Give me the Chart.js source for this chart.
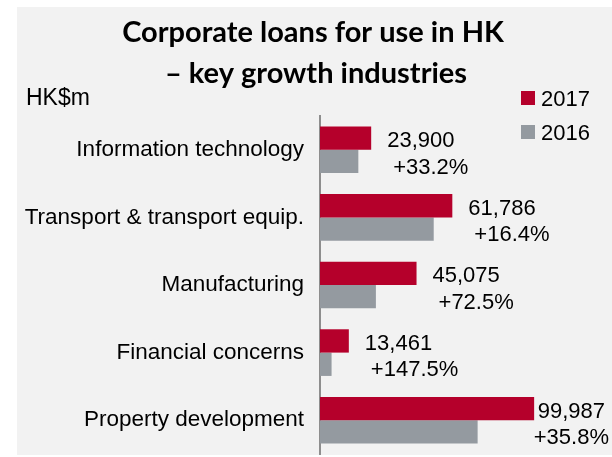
<!DOCTYPE html>
<html>
<head>
<meta charset="utf-8">
<script src="https://cdn.jsdelivr.net/npm/chart.js@4"></script>
<style>
  html, body { margin: 0; padding: 0; background: #fff; }
  canvas { display: block; }
</style>
</head>
<body>
<canvas id="loansChart" width="612" height="457"></canvas>
<script>
const chartTitle = ['Corporate loans for use in HK', '\u2013 key growth industries'];
const industries = ['Information technology', 'Transport & transport equip.', 'Manufacturing', 'Financial concerns', 'Property development'];
const loans2017 = [23900, 61786, 45075, 13461, 99987];
const loans2016 = [17900, 53100, 26100, 5400, 73600];
const growthPct = [33.2, 16.4, 72.5, 147.5, 35.8];
const seriesNames = ['2017', '2016'];
const unitLabel = 'HK$m';

const RED = '#b5002b';
const GREY = '#949aa0';
const FONT = "'Liberation Sans', Arial, sans-serif";

// panel background, title, unit label, legend and value/growth labels
const decorations = {
    id: 'decorations',
    beforeDraw(chart) {
        const ctx = chart.ctx;
        ctx.save();
        ctx.fillStyle = '#f2f2f2';
        ctx.fillRect(17, 7, chart.width - 17, 448);
        ctx.restore();
    },
    afterDatasetsDraw(chart) {
        const ctx = chart.ctx;
        ctx.save();
        ctx.fillStyle = '#000';
        ctx.textBaseline = 'alphabetic';

        ctx.textAlign = 'center';
        ctx.font = "bold 29px Lato, sans-serif";
        ctx.fillText(chartTitle[0], 313, 42);
        ctx.fillText(chartTitle[1], 316, 83);

        ctx.textAlign = 'left';
        ctx.font = '23px ' + FONT;
        ctx.fillText(unitLabel, 26, 105);

        // legend, stacked at top right
        ctx.font = '22px ' + FONT;
        chart.data.datasets.forEach((ds, k) => {
            const y = 91 + k * 34;
            ctx.fillStyle = ds.backgroundColor;
            ctx.fillRect(521, y, 14, 14);
            ctx.fillStyle = '#000';
            ctx.fillText(ds.label, 541, y + 15);
        });

        const bars17 = chart.getDatasetMeta(0).data;
        const bars16 = chart.getDatasetMeta(1).data;
        ctx.textBaseline = 'middle';
        industries.forEach((_, i) => {
            const valText = loans2017[i].toLocaleString('en-US');
            const pctText = '+' + growthPct[i].toFixed(1) + '%';
            const vw = ctx.measureText(valText).width;
            const pw = ctx.measureText(pctText).width;
            const vx = Math.min(bars17[i].x + 16, chart.width - 7 - vw);
            const px = Math.min(vx + 6, chart.width - 3 - pw);
            ctx.fillText(valText, vx, bars17[i].y + 3);
            ctx.fillText(pctText, px, bars16[i].y + 6);
        });
        ctx.restore();
    }
};

new Chart(document.getElementById('loansChart'), {
    type: 'bar',
    data: {
        labels: industries,
        datasets: [
            { label: seriesNames[0], data: loans2017, backgroundColor: RED },
            { label: seriesNames[1], data: loans2016, backgroundColor: GREY }
        ]
    },
    options: {
        indexAxis: 'y',
        responsive: false,
        animation: false,
        categoryPercentage: 0.69,
        barPercentage: 1.0,
        layout: { padding: { top: 116, right: 35, bottom: 3, left: 0 } },
        plugins: {
            legend: { display: false },
            tooltip: { enabled: false },
            title: { display: false }
        },
        scales: {
            x: {
                display: false,
                min: 0,
                max: 120000
            },
            y: {
                grid: { display: false },
                border: { display: true, color: '#8e8e8e', width: 2 },
                ticks: {
                    color: '#000',
                    padding: 8,
                    font: { family: FONT, size: 22.5 }
                },
                afterFit(scale) {
                    scale.width = 320;
                    scale.paddingTop = 0;
                    scale.paddingBottom = 0;
                }
            }
        }
    },
    plugins: [decorations]
});
</script>
</body>
</html>
